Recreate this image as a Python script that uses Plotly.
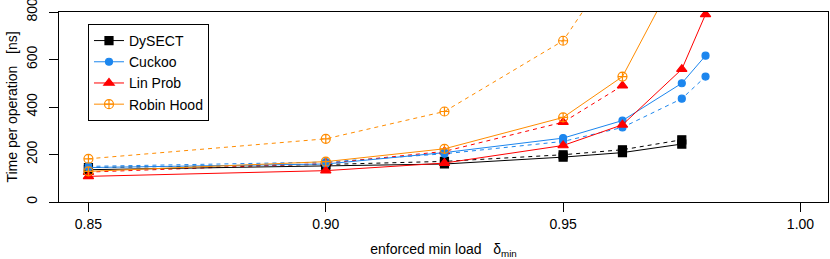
import plotly.graph_objects as go

# x values (enforced min load)
x_all = [0.85, 0.90, 0.925, 0.95, 0.9625, 0.975, 0.98]

# DySECT
dysect_solid = [136, 150, 160, 189, 208, 244]
dysect_dash = [145, 158, 171, 199, 220, 262]
# Cuckoo
cuckoo_solid = [145, 160, 208, 269, 343, 500, 616]
cuckoo_dash = [150, 168, 203, 255, 314, 435, 528]
# Lin Prob
linprob_solid = [108, 132, 164, 238, 325, 559, 790]
linprob_dash = [126, 162, 213, 336, 490]
# Robin Hood
robin_solid = [129, 170, 224, 356, 528, 1000]
robin_dash = [182, 266, 381, 679, 1050]

y_ticks = [0, 200, 400, 600, 800]
x_ticks = [0.85, 0.90, 0.95, 1.00]
x_ticklabels = ["0.85", "0.90", "0.95", "1.00"]

names = ["DySECT", "Cuckoo", "Lin Prob", "Robin Hood"]
colors = ["#000000", "#1C86EE", "#FF0000", "#FF8C00"]
symbols = ["square", "circle", "triangle-up", "circle-cross-open"]
sizes = [8, 7, 9, 9]
solids = [dysect_solid, cuckoo_solid, linprob_solid, robin_solid]
dashes = [dysect_dash, cuckoo_dash, linprob_dash, robin_dash]

fig = go.Figure()
for name, c, s, sz, ys, yd in zip(names, colors, symbols, sizes, solids, dashes):
    mk = dict(color=c, symbol=s, size=sz, line=dict(color=c, width=1.2))
    fig.add_trace(go.Scatter(x=x_all[:len(yd)], y=yd, mode="lines+markers", name=name,
                             line=dict(color=c, width=1, dash="4px,4px"), marker=mk,
                             showlegend=False, cliponaxis=True))
for name, c, s, sz, ys, yd in zip(names, colors, symbols, sizes, solids, dashes):
    mk = dict(color=c, symbol=s, size=sz, line=dict(color=c, width=1.2))
    fig.add_trace(go.Scatter(x=x_all[:len(ys)], y=ys, mode="lines+markers", name=name,
                             line=dict(color=c, width=1), marker=mk,
                             showlegend=True, cliponaxis=True))

font = "Liberation Sans, Arial, sans-serif"
fig.update_layout(
    width=830, height=259,
    margin=dict(l=59, r=2, t=12, b=57, autoexpand=False),
    paper_bgcolor="white", plot_bgcolor="white",
    font=dict(family=font, size=14, color="black"),
    showlegend=True,
    legend=dict(x=0.0377, y=0.937, xanchor="left", yanchor="top",
                bordercolor="black", borderwidth=1, bgcolor="white",
                font=dict(size=14, family=font), traceorder="normal",
                tracegroupgap=0),
)
fig.update_xaxes(
    range=[0.8438, 1.0058], tickvals=x_ticks, ticktext=x_ticklabels,
    ticks="outside", ticklen=9, tickcolor="black", tickwidth=1,
    showline=True, linecolor="black", linewidth=1, mirror=True,
    showgrid=False, zeroline=False, automargin=False,
    tickfont=dict(size=14), ticklabeloverflow="allow",
    title=dict(text="enforced min load\u00a0\u00a0\u00a0δ<sub>min</sub>", font=dict(size=14), standoff=13),
)
fig.update_yaxes(
    range=[0, 800], tickvals=y_ticks,
    ticks="outside", ticklen=9, tickcolor="black", tickwidth=1,
    showline=True, linecolor="black", linewidth=1, mirror=True,
    showgrid=False, zeroline=False, tickangle=-90, automargin=False,
    tickfont=dict(size=14), ticklabeloverflow="allow", ticklabelstandoff=6,
    title=dict(text="Time per operation\u00a0\u00a0\u00a0[ns]", font=dict(size=14), standoff=3),
)
fig.write_html("out.html", config={"displayModeBar": False},
               post_script="document.body.style.margin='0';")
